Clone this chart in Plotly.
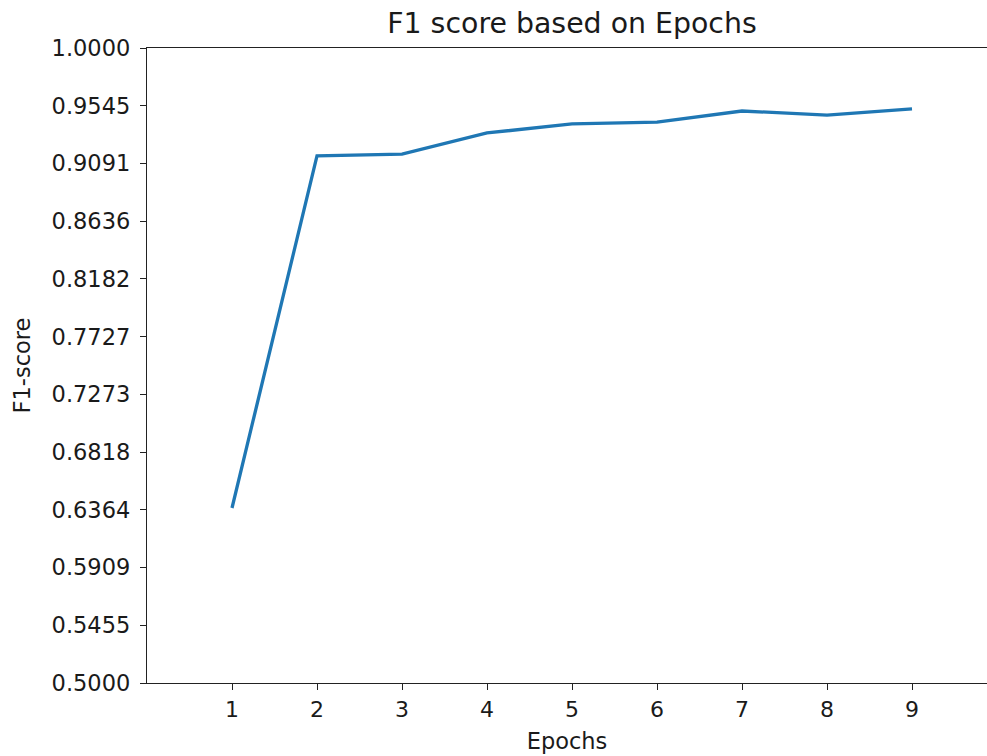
import plotly.graph_objects as go

epochs = [1, 2, 3, 4, 5, 6, 7, 8, 9]
f1_scores = [0.6378, 0.9150, 0.9165, 0.9331, 0.9402, 0.9417, 0.9504, 0.9472, 0.9520]
y_ticks = [0.5 + k / 22 for k in range(12)]
x_ticks = [1, 2, 3, 4, 5, 6, 7, 8, 9]

font = "DejaVu Sans"
W, H = 987, 756
L, T, B = 147, 48, 73

fig = go.Figure()
fig.add_trace(go.Scatter(x=epochs, y=f1_scores, mode="lines",
                         line=dict(color="#1f77b4", width=3.3)))

fig.update_layout(
    width=W, height=H, autosize=False,
    margin=dict(l=L, r=0, t=T, b=B, pad=0, autoexpand=False),
    paper_bgcolor="white", plot_bgcolor="white",
    showlegend=False,
    font=dict(family=font, size=22, color="black"),
    title=dict(text="F1 score based on Epochs", x=572 / W, xref="container", xanchor="center",
               y=1 - 23 / H, yref="container", yanchor="middle",
               font=dict(family=font, size=28.4, color="#1a1a1a")),
)

fig.update_xaxes(range=[0, (W - L) / 85], tickvals=x_ticks, ticktext=[str(v) for v in x_ticks],
                 showgrid=False, zeroline=False, showline=True, linecolor="#222", linewidth=1.4,
                 mirror=True, ticks="outside", ticklen=6, tickwidth=1.4, tickcolor="#222",
                 automargin=False,
                 title=dict(text="Epochs", font=dict(family=font, size=22.5, color="#1a1a1a"), standoff=12),
                 tickfont=dict(family=font, size=22, color="#1a1a1a"))
fig.update_yaxes(range=[0.5, 1.0], tickvals=y_ticks, tickformat=".4f",
                 showgrid=False, zeroline=False, showline=True, linecolor="#222", linewidth=1.4,
                 mirror=False, ticks="outside", ticklen=6, tickwidth=1.4, tickcolor="#222",
                 automargin=False, ticklabelstandoff=5,
                 title=dict(text="F1-score", font=dict(family=font, size=22.5, color="#1a1a1a"), standoff=14),
                 tickfont=dict(family=font, size=22.5, color="#1a1a1a"))

post = "document.body.style.margin='0';document.body.style.overflow='hidden';"
fig.write_html("out.html", post_script=post, config={"responsive": False, "displayModeBar": False})
